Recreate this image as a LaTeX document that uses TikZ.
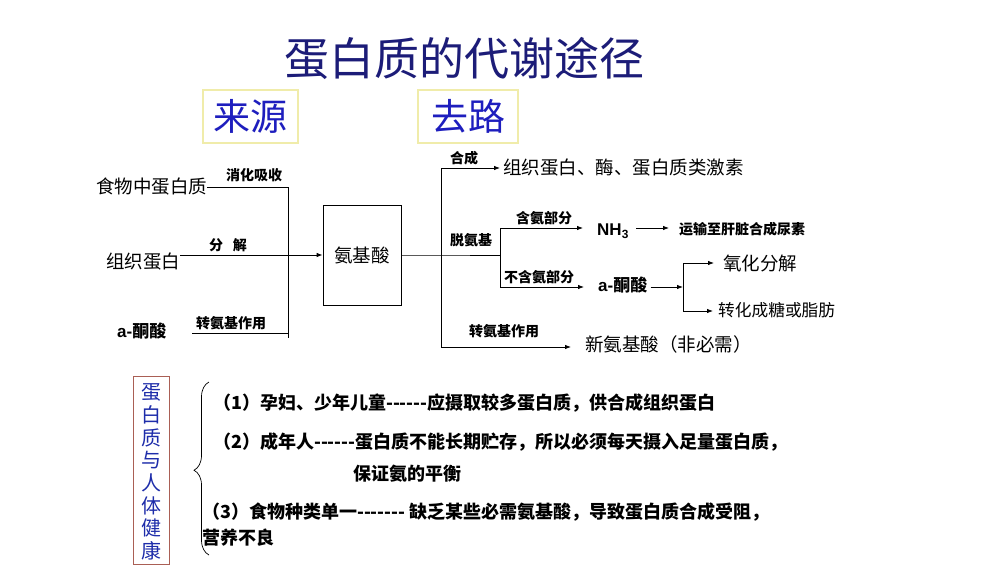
\documentclass[tikz,border=0pt]{standalone}
\usepackage{fontspec}
\setmainfont{Liberation Sans}
\newfontfamily\cjk{Noto Sans CJK SC}
\usetikzlibrary{arrows.meta,decorations.pathreplacing}
\definecolor{navy}{RGB}{28,28,120}
\definecolor{hdblue}{RGB}{30,30,190}
\definecolor{hdbox}{RGB}{240,236,170}
\definecolor{vblue}{RGB}{30,45,170}
\definecolor{vbox}{RGB}{170,95,85}
\tikzset{
  txt/.style={inner sep=0pt, outer sep=0pt, font=\cjk\fontsize{18.5}{20}\selectfont},
  lbl/.style={inner sep=0pt, font=\cjk\bfseries\fontsize{14}{16}\selectfont},
  keto/.style={inner sep=0pt, font=\bfseries\fontsize{17}{20}\selectfont},
  body/.style={inner sep=0pt, anchor=west, font=\cjk\bfseries\fontsize{18}{20}\selectfont},
  hdbox/.style={draw=hdbox, line width=1.6pt, minimum width=#1, minimum height=53pt, inner sep=0pt,
     text=hdblue, font=\cjk\fontsize{37}{40}\selectfont},
  ln/.style={line width=0.8pt},
  arr/.style={line width=0.8pt, -{Latex[length=6pt,width=4.5pt]}},
}
\begin{document}
\begin{tikzpicture}[x=1pt,y=-1pt]
\useasboundingbox[fill=white] (0,0) rectangle (995,578);

% title and headings
\node[inner sep=0pt, text=navy, font=\cjk\fontsize{45}{48}\selectfont] (title) at (464,58) {蛋白质的代谢途径};
\node[hdbox=95pt] (src) at (250.5,116.5) {来源};
\node[hdbox=100pt] (dst) at (468,116.5) {去路};

% left sources
\node[txt, anchor=west] (food) at (96,187) {食物中蛋白质};
\node[txt, anchor=west] (tissue) at (106,262) {组织蛋白};
\node[keto, anchor=west] (ketoL) at (117,331) {a-{\cjk 酮酸}};
\coordinate (vtop) at (288,187);
\coordinate (vbot) at (288,338);
\coordinate (kstart) at (192,333);
\coordinate (kend) at (288,333);
\node[lbl] (l1) at (254,175) {消化吸收};
\node[lbl] (l2) at (228,245) {分\hspace{10pt}解};
\node[lbl] (l3) at (231,323) {转氨基作用};

% amino acid box
\node[draw, line width=0.8pt, minimum width=78pt, minimum height=100pt, inner sep=0pt,
      font=\cjk\fontsize{18.5}{20}\selectfont] (aa) at (362,255) {氨基酸};

\draw[ln] (food.east) -- (vtop) -- (vbot);
\draw[ln] (kstart) -- (kend);
\draw[arr] (tissue.east |- aa.west) -- (aa.west);

% right side
\coordinate (j1) at (441,255);
\coordinate (j1t) at (441,168);
\coordinate (j1b) at (441,347);
\coordinate (j2) at (500,255);
\coordinate (j2t) at (500,228);
\coordinate (j2b) at (500,287);
\coordinate (j3) at (683,287);
\coordinate (j3t) at (683,263);
\coordinate (j3b) at (683,311);

\node[txt, anchor=west] (synth) at (503,168) {组织蛋白、酶、蛋白质类激素};
\node[keto, anchor=west] (nh3) at (597,231) {NH\textsubscript{3}};
\node[lbl, anchor=west] (urea) at (679,229) {运输至肝脏合成尿素};
\node[keto, anchor=west] (ketoR) at (598,285) {a-{\cjk 酮酸}};
\node[txt, anchor=west] (oxid) at (723,263) {氧化分解};
\node[inner sep=0pt, font=\cjk\fontsize{16.7}{18}\selectfont, anchor=west] (sugar) at (718,310) {转化成糖或脂肪};
\node[txt, anchor=west] (newaa) at (585,344) {新氨基酸（非必需）};

\node[lbl] (r1) at (464,158) {合成};
\node[lbl] (r2) at (471,240) {脱氨基};
\node[lbl] (r3) at (544,218) {含氨部分};
\node[lbl] (r4) at (539,277) {不含氨部分};
\node[lbl] (r5) at (504,331) {转氨基作用};

\draw[ln] (aa.east |- j1) -- (j1) -- (j2);
\draw[ln] (j1t) -- (j1b);
\draw[ln] (j2t) -- (j2b);
\draw[ln] (j3t) -- (j3b);
\draw[arr, shorten >=3pt] (j1t) -- (synth.west |- j1t);
\draw[arr, shorten >=14pt] (j2t) -- (nh3.west |- j2t);
\draw[arr, shorten <=7pt, shorten >=10pt] (nh3.east |- j2t) -- (urea.west |- j2t);
\draw[arr, shorten >=14pt] (j2b) -- (ketoR.west |- j2b);
\draw[arr, shorten <=3pt] (ketoR.east |- j3) -- (j3);
\draw[arr, shorten >=9pt] (j3t) -- (oxid.west |- j3t);
\draw[arr, shorten >=5pt] (j3b) -- (sugar.west |- j3b);
\draw[arr, shorten >=14pt] (j1b) -- (newaa.west |- j1b);

% bottom: protein and health
\node[draw=vbox, line width=1pt, minimum width=36pt, minimum height=188pt, inner sep=0pt] (vb) at (151,470) {};
\node[inner sep=0pt, text=vblue, font=\cjk\fontsize{20}{22.7}\selectfont, align=center] (vt) at (151,472)
  {蛋\\白\\质\\与\\人\\体\\健\\康};
\coordinate (bt) at (209,382);
\coordinate (bb) at (209,555);
\draw[line width=0.7pt, decorate, decoration={brace, amplitude=15pt, aspect=0.49}] (bb) -- (bt);

\node[body] (t1) at (213,403) {（1）孕妇、少年儿童------应摄取较多蛋白质，供合成组织蛋白};
\node[body] (t2) at (213,442) {（2）成年人------蛋白质不能长期贮存，所以必须每天摄入足量蛋白质，};
\node[body] (t2b) at (353,474) {保证氨的平衡};
\node[body] (t3) at (202,512) {（3）食物种类单一------- 缺乏某些必需氨基酸，导致蛋白质合成受阻，};
\node[body] (t3b) at (202,538) {营养不良};
\end{tikzpicture}
\end{document}
